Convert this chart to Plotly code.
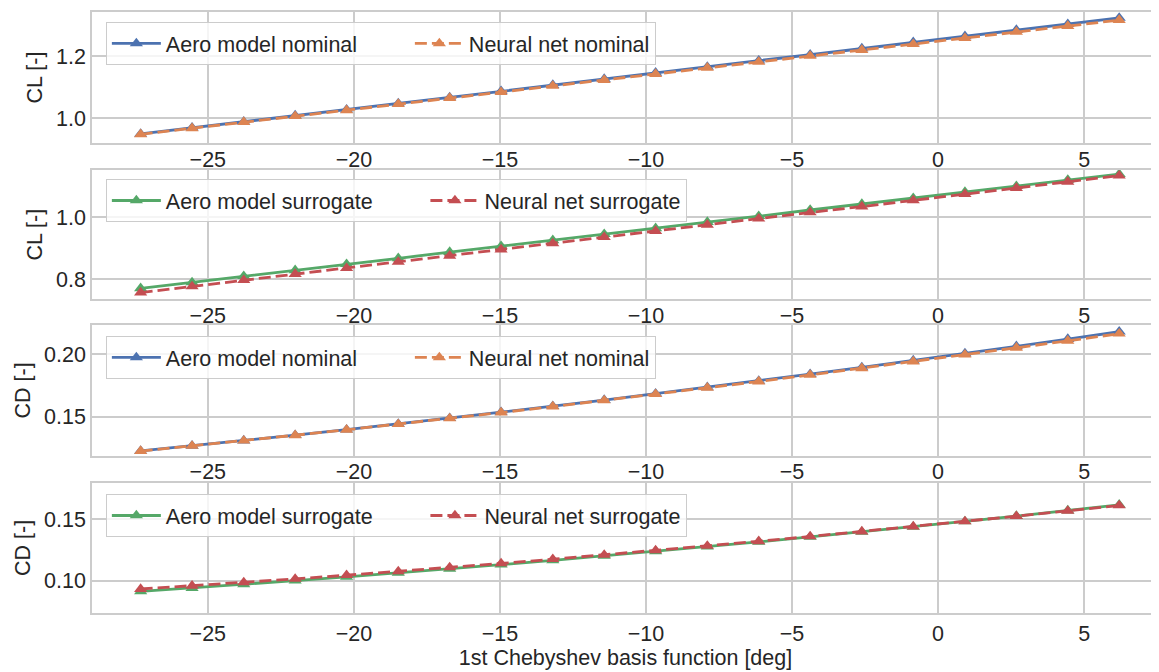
import plotly.graph_objects as go

# ---------------- data ----------------
x_deg = [-27.30, -25.54, -23.77, -22.01, -20.25, -18.48, -16.72, -14.96, -13.19, -11.43,
         -9.67, -7.90, -6.14, -4.38, -2.61, -0.85, 0.92, 2.68, 4.44, 6.20]

cl_aero_nominal = [0.950, 0.970, 0.989, 1.009, 1.028, 1.048, 1.067, 1.087, 1.107, 1.126,
                   1.146, 1.165, 1.185, 1.204, 1.224, 1.244, 1.263, 1.283, 1.302, 1.322]
cl_nn_nominal = [0.949, 0.968, 0.988, 1.007, 1.026, 1.046, 1.065, 1.084, 1.104, 1.123,
                 1.142, 1.162, 1.181, 1.200, 1.219, 1.238, 1.257, 1.277, 1.296, 1.315]

cl_aero_surrogate = [0.771, 0.790, 0.810, 0.829, 0.849, 0.868, 0.888, 0.907, 0.926, 0.946,
                     0.965, 0.985, 1.004, 1.024, 1.043, 1.062, 1.082, 1.101, 1.121, 1.140]
cl_nn_surrogate = [0.757, 0.777, 0.797, 0.817, 0.836, 0.856, 0.876, 0.896, 0.916, 0.936,
                   0.956, 0.976, 0.996, 1.016, 1.035, 1.055, 1.075, 1.095, 1.115, 1.135]

cd_aero_nominal = [0.1225, 0.1266, 0.1309, 0.1352, 0.1396, 0.1442, 0.1488, 0.1536, 0.1584, 0.1633,
                   0.1684, 0.1735, 0.1787, 0.1841, 0.1895, 0.1950, 0.2006, 0.2064, 0.2122, 0.2181]
cd_nn_nominal = [0.1224, 0.1265, 0.1308, 0.1351, 0.1395, 0.1440, 0.1486, 0.1533, 0.1581, 0.1630,
                 0.1680, 0.1731, 0.1782, 0.1835, 0.1888, 0.1942, 0.1997, 0.2052, 0.2108, 0.2165]

cd_aero_surrogate = [0.0913, 0.0941, 0.0970, 0.1001, 0.1032, 0.1064, 0.1097, 0.1131, 0.1166, 0.1202,
                     0.1239, 0.1277, 0.1316, 0.1356, 0.1397, 0.1439, 0.1482, 0.1526, 0.1571, 0.1617]
cd_nn_surrogate = [0.0933, 0.0959, 0.0986, 0.1015, 0.1045, 0.1076, 0.1108, 0.1141, 0.1175, 0.1210,
                   0.1246, 0.1283, 0.1321, 0.1360, 0.1400, 0.1440, 0.1482, 0.1525, 0.1568, 0.1612]

y_titles = ["CL [-]", "CL [-]", "CD [-]", "CD [-]"]
x_title = "1st Chebyshev basis function [deg]"

# ---------------- style ----------------
BLUE, ORANGE, GREEN, RED = "#4C72B0", "#DD8452", "#55A868", "#C44E52"
TXT = "#262626"
GRID = "#cccccc"
FONT = "Arial, Liberation Sans, sans-serif"
FS = 21.5
PAD = "\u00a0" * 8  # spacing between legend columns

panels = [
    (cl_aero_nominal, cl_nn_nominal, "Aero model nominal", "Neural net nominal", BLUE, ORANGE),
    (cl_aero_surrogate, cl_nn_surrogate, "Aero model surrogate", "Neural net surrogate", GREEN, RED),
    (cd_aero_nominal, cd_nn_nominal, "Aero model nominal", "Neural net nominal", BLUE, ORANGE),
    (cd_aero_surrogate, cd_nn_surrogate, "Aero model surrogate", "Neural net surrogate", GREEN, RED),
]

domains = [[0.782, 1.0], [0.522, 0.737], [0.2617, 0.4792], [0.0, 0.2168]]
yranges = [[0.921, 1.341], [0.7355, 1.153], [0.1187, 0.2235], [0.0738, 0.1797]]
ydticks = [0.2, 0.2, 0.05, 0.05]
yfmts = [".1f", ".1f", ".2f", ".2f"]
legend_tops = [0.9834, 0.7221, 0.4609, 0.198]
label_shift = [-4, -4, -4, 0]
xrange_ = [-28.965, 7.563]

fig = go.Figure()
layout = dict(
    width=1151, height=664,
    margin=dict(l=84, r=0, t=4, b=59, autoexpand=False),
    paper_bgcolor="white", plot_bgcolor="white",
    font=dict(family=FONT, size=FS, color=TXT),
    showlegend=True,
)

for i, (a, n, la, ln, ca, cn) in enumerate(panels):
    k = "" if i == 0 else str(i + 1)
    leg = "legend" if i == 0 else f"legend{i + 1}"
    fig.add_trace(go.Scatter(
        x=x_deg, y=a, name=la + PAD, mode="lines+markers",
        line=dict(color=ca, width=2.8),
        marker=dict(symbol="triangle-up", size=11.5, color=ca, line=dict(width=0)),
        xaxis="x" + k, yaxis="y" + k, legend=leg,
    ))
    fig.add_trace(go.Scatter(
        x=x_deg, y=n, name=ln, mode="lines+markers",
        line=dict(color=cn, width=2.8, dash="12px,5px"),
        marker=dict(symbol="triangle-up", size=11.5, color=cn, line=dict(width=0)),
        xaxis="x" + k, yaxis="y" + k, legend=leg,
    ))
    layout["xaxis" + k] = dict(
        domain=[0, 1], anchor="y" + k, range=xrange_, automargin=False,
        dtick=5, tick0=0, showgrid=True, gridcolor=GRID, gridwidth=1.5,
        showline=True, linecolor=GRID, linewidth=1.5, mirror=True,
        zeroline=False, ticks="", tickfont=dict(size=FS, color=TXT),
        ticklabelstandoff=label_shift[i],
        title=dict(text=x_title if i == 3 else "", font=dict(size=FS, color=TXT), standoff=4),
    )
    layout["yaxis" + k] = dict(
        domain=domains[i], anchor="x" + k, range=yranges[i], automargin=False,
        dtick=ydticks[i], tick0=0, tickformat=yfmts[i],
        showgrid=True, gridcolor=GRID, gridwidth=1.5,
        showline=True, linecolor=GRID, linewidth=1.5,
        zeroline=False, ticks="", tickfont=dict(size=FS, color=TXT),
        title=dict(text=y_titles[i], font=dict(size=FS, color=TXT), standoff=8),
    )
    layout[leg] = dict(
        x=0.013, y=legend_tops[i], xanchor="left", yanchor="top",
        orientation="h", bgcolor="rgba(255,255,255,0.8)",
        bordercolor=GRID, borderwidth=1, itemwidth=49,
        font=dict(size=FS, color=TXT),
    )

fig.update_layout(**layout)
fig.write_html("out.html")
